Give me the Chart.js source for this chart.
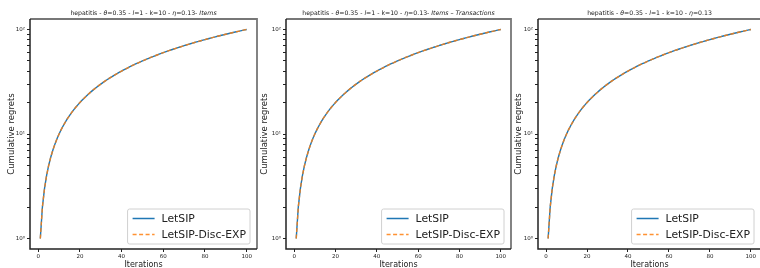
<!DOCTYPE html>
<html>
<head>
<meta charset="utf-8">
<script src="https://cdn.jsdelivr.net/npm/chart.js@4.4.0/dist/chart.umd.min.js"></script>
<style>
  html, body { margin: 0; padding: 0; background: #fff; overflow: hidden; }
  #wrap { position: relative; width: 760px; height: 268px; overflow: hidden; }
  canvas { position: absolute; top: 0; }
</style>
</head>
<body>
<div id="wrap">
  <canvas id="c1" width="259" height="268" style="left:0px"></canvas>
  <canvas id="c2" width="260" height="268" style="left:253px"></canvas>
  <canvas id="c3" width="256" height="268" style="left:507px"></canvas>
</div>
<script>
// values (all three panels look the same)
const iterations = [
  1, 2, 3, 4, 5, 6, 7, 8, 9, 10, 11, 12, 13, 14, 15, 16, 17, 18, 19, 20,
  21, 22, 23, 24, 25, 26, 27, 28, 29, 30, 31, 32, 33, 34, 35, 36, 37, 38, 39, 40,
  41, 42, 43, 44, 45, 46, 47, 48, 49, 50, 51, 52, 53, 54, 55, 56, 57, 58, 59, 60,
  61, 62, 63, 64, 65, 66, 67, 68, 69, 70, 71, 72, 73, 74, 75, 76, 77, 78, 79, 80,
  81, 82, 83, 84, 85, 86, 87, 88, 89, 90, 91, 92, 93, 94, 95, 96, 97, 98, 99, 100
];
const letsip = [
  1, 2, 3, 4, 5, 6, 7, 8, 9, 10, 11, 12, 13, 14, 15, 16, 17, 18, 19, 20,
  21, 22, 23, 24, 25, 26, 27, 28, 29, 30, 31, 32, 33, 34, 35, 36, 37, 38, 39, 40,
  41, 42, 43, 44, 45, 46, 47, 48, 49, 50, 51, 52, 53, 54, 55, 56, 57, 58, 59, 60,
  61, 62, 63, 64, 65, 66, 67, 68, 69, 70, 71, 72, 73, 74, 75, 76, 77, 78, 79, 80,
  81, 82, 83, 84, 85, 86, 87, 88, 89, 90, 91, 92, 93, 94, 95, 96, 97, 98, 99, 100
];
const letsipDisc = [
  1, 2, 3, 4, 5, 6, 7, 8, 9, 10, 11, 12, 13, 14, 15, 16, 17, 18, 19, 20,
  21, 22, 23, 24, 25, 26, 27, 28, 29, 30, 31, 32, 33, 34, 35, 36, 37, 38, 39, 40,
  41, 42, 43, 44, 45, 46, 47, 48, 49, 50, 51, 52, 53, 54, 55, 56, 57, 58, 59, 60,
  61, 62, 63, 64, 65, 66, 67, 68, 69, 70, 71, 72, 73, 74, 75, 76, 77, 78, 79, 80,
  81, 82, 83, 84, 85, 86, 87, 88, 89, 90, 91, 92, 93, 94, 95, 96, 97, 98, 99, 100
];
const xTicks = [0, 20, 40, 60, 80, 100];
const yTicks = [1, 2, 3, 4, 5, 6, 7, 8, 9, 10, 20, 30, 40, 50, 60, 70, 80, 90, 100];
const yLabels = { 1: '10\u2070', 10: '10\u00b9', 100: '10\u00b2' };
const seriesNames = ['LetSIP', 'LetSIP-Disc-EXP'];

// title pieces: [text, italic]
const titleBase = [['hepatitis - ', false], ['\u03b8', true], ['=0.35 - ', false], ['l', true],
  ['=1 - k=10 - ', false], ['\u03b7', true], ['=0.13', false]];
const titles = [
  titleBase.concat([['- ', false], ['Items', true]]),
  titleBase.concat([['- ', false], ['Items \u2013 Transactions', true]]),
  titleBase
];

const FONT = '"DejaVu Sans", sans-serif';
const BLUE = '#1f77b4';

const panels = [
  { id: 'c1', yWidth: 30 },
  { id: 'c2', yWidth: 33 },
  { id: 'c3', yWidth: 31 }
];

// frame, title and legend drawn by hand in matplotlib style
const decor = {
  id: 'decor',
  afterDatasetsDraw(chart, args, opts) {
    const { ctx, chartArea: a } = chart;
    ctx.save();
    ctx.lineWidth = 1.8;
    ctx.strokeStyle = '#777';
    ctx.beginPath();
    ctx.moveTo(a.left, a.top); ctx.lineTo(a.right, a.top); ctx.lineTo(a.right, a.bottom);
    ctx.stroke();
    ctx.lineWidth = 1.5;
    ctx.strokeStyle = '#222';
    ctx.beginPath();
    ctx.moveTo(a.left, a.top); ctx.lineTo(a.left, a.bottom); ctx.lineTo(a.right, a.bottom);
    ctx.stroke();

    // title
    const parts = opts.title;
    const fs = 6.2;
    let w = 0;
    parts.forEach(p => {
      ctx.font = (p[1] ? 'italic ' : '') + fs + 'px ' + FONT;
      w += ctx.measureText(p[0]).width;
    });
    let x = (a.left + a.right) / 2 - w / 2;
    ctx.fillStyle = '#222';
    ctx.textBaseline = 'middle';
    ctx.textAlign = 'left';
    parts.forEach(p => {
      ctx.font = (p[1] ? 'italic ' : '') + fs + 'px ' + FONT;
      ctx.fillText(p[0], x, a.top - 5.5);
      x += ctx.measureText(p[0]).width;
    });

    // legend
    ctx.font = '10.8px ' + FONT;
    const ds = chart.data.datasets;
    const tw = Math.max(...ds.map(d => ctx.measureText(d.label).width));
    const bw = tw + 38, bh = 35;
    const bx = a.right - 7 - bw, by = a.bottom - 5 - bh;
    ctx.fillStyle = 'rgba(255,255,255,0.85)';
    ctx.strokeStyle = '#d0d0d0';
    ctx.lineWidth = 1;
    ctx.beginPath();
    ctx.roundRect(bx, by, bw, bh, 2);
    ctx.fill();
    ctx.stroke();
    ds.forEach((d, i) => {
      const yy = by + 9.5 + i * 16;
      ctx.strokeStyle = d.borderColor;
      ctx.lineWidth = 1.5;
      ctx.setLineDash(d.borderDash || []);
      ctx.beginPath();
      ctx.moveTo(bx + 5, yy); ctx.lineTo(bx + 27, yy);
      ctx.stroke();
      ctx.setLineDash([]);
      ctx.fillStyle = '#222';
      ctx.fillText(d.label, bx + 34, yy + 0.5);
    });
    ctx.restore();
  }
};

panels.forEach((p, k) => {
  new Chart(document.getElementById(p.id).getContext('2d'), {
    type: 'line',
    data: {
      datasets: [
        {
          label: seriesNames[0],
          data: iterations.map((x, i) => ({ x: x, y: letsip[i] })),
          borderColor: BLUE,
          borderWidth: 1.4,
          pointRadius: 0,
          order: 1
        },
        {
          label: seriesNames[1],
          data: iterations.map((x, i) => ({ x: x, y: letsipDisc[i] })),
          borderColor: 'rgba(255,127,14,0.85)',
          borderWidth: 1.4,
          borderDash: [4, 2.5],
          pointRadius: 0,
          order: 0
        }
      ]
    },
    options: {
      responsive: false,
      animation: false,
      layout: { padding: { top: 19, right: 2, bottom: 0, left: 0 } },
      plugins: {
        legend: { display: false },
        tooltip: { enabled: false },
        decor: { title: titles[k] }
      },
      scales: {
        x: {
          type: 'linear',
          min: -3.95,
          max: 104.95,
          afterBuildTicks: s => { s.ticks = xTicks.map(v => ({ value: v })); },
          afterFit: s => { s.height = 19; },
          ticks: { font: { family: FONT, size: 5.5 }, color: '#222', padding: 1, maxRotation: 0, autoSkip: false },
          grid: { drawOnChartArea: false, tickLength: 3, tickColor: '#222' },
          border: { display: false },
          title: { display: true, text: 'Iterations', font: { family: FONT, size: 8 }, color: '#222', padding: { top: 0, bottom: -1.5 } }
        },
        y: {
          type: 'logarithmic',
          min: Math.pow(10, -0.1),
          max: Math.pow(10, 2.1),
          afterBuildTicks: s => { s.ticks = yTicks.map(v => ({ value: v })); },
          afterFit: s => { s.width = p.yWidth; },
          ticks: { font: { family: FONT, size: 5.5 }, color: '#222', padding: 2, autoSkip: false,
            callback: v => yLabels[v] || '' },
          grid: { drawOnChartArea: false, tickLength: 3, tickColor: '#222' },
          border: { display: false },
          title: { display: true, text: 'Cumulative regrets', font: { family: FONT, size: 8.5 }, color: '#222', padding: { top: 6.5, bottom: 0 } }
        }
      }
    },
    plugins: [decor]
  });
});
</script>
</body>
</html>
